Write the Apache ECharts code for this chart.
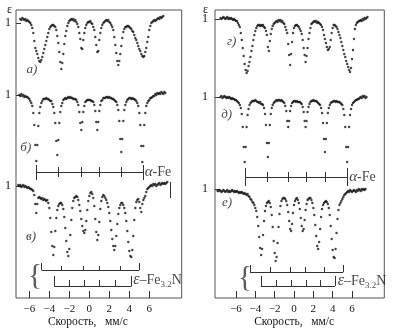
<!DOCTYPE html>
<html><head><meta charset="utf-8">
<script src="https://cdn.jsdelivr.net/npm/echarts@6/dist/echarts.min.js"></script>
<style>html,body{margin:0;padding:0;background:#fff}#c{width:393px;height:332px}</style>
</head><body><div id="c"></div>
<script>
// ---------- DATA ----------
const velocityTicks = [-6, -4, -2, 0, 2, 4, 6];

const velocityLeft = [
-7.1,-7.0,-6.9,-6.8,-6.7,-6.6,-6.5,-6.4,-6.3,-6.2,
-6.1,-6.0,-5.9,-5.8,-5.7,-5.6,-5.5,-5.4,-5.3,-5.2,
-5.1,-5.0,-4.9,-4.8,-4.7,-4.6,-4.5,-4.4,-4.3,-4.2,
-4.1,-4.0,-3.9,-3.8,-3.7,-3.6,-3.5,-3.4,-3.3,-3.2,
-3.1,-3.0,-2.9,-2.8,-2.7,-2.6,-2.5,-2.4,-2.3,-2.2,
-2.1,-2.0,-1.9,-1.8,-1.7,-1.6,-1.5,-1.4,-1.3,-1.2,
-1.1,-1.0,-0.9,-0.8,-0.7,-0.6,-0.5,-0.4,-0.3,-0.2,
-0.1,0.0,0.1,0.2,0.3,0.4,0.5,0.6,0.7,0.8,
0.9,1.0,1.1,1.2,1.3,1.4,1.5,1.6,1.7,1.8,
1.9,2.0,2.1,2.2,2.3,2.4,2.5,2.6,2.7,2.8,
2.9,3.0,3.1,3.2,3.3,3.4,3.5,3.6,3.7,3.8,
3.9,4.0,4.1,4.2,4.3,4.4,4.5,4.6,4.7,4.8,
4.9,5.0,5.1,5.2,5.3,5.4,5.5,5.6,5.7,5.8,
5.9,6.0,6.1,6.2,6.3,6.4,6.5,6.6,6.7,6.8,
6.9,7.0,7.1,7.2,7.3,7.4,7.5,7.6,7.7,7.8];

// spectrum а)
const epsA = [null,null,
1.000,0.999,1.001,1.000,0.999,1.000,0.998,0.999,0.998,0.997,
0.996,0.994,0.991,0.986,0.978,0.971,0.968,0.965,0.961,0.958,
0.957,0.959,0.962,0.966,0.970,0.974,0.978,0.982,0.986,0.990,
0.992,0.993,0.994,0.994,0.993,0.992,0.989,0.983,0.976,0.967,
0.957,0.950,0.956,0.965,0.975,0.983,0.988,0.993,0.996,0.998,
0.999,1.000,0.999,1.000,0.998,0.999,0.997,0.995,0.992,0.986,
0.980,0.971,0.970,0.979,0.986,0.991,0.994,0.996,0.997,0.997,
0.998,0.996,0.995,0.992,0.989,0.982,0.974,0.967,0.968,0.979,
0.986,0.991,0.994,0.996,0.997,0.998,0.999,0.998,0.999,0.997,
0.996,0.994,0.992,0.989,0.982,0.974,0.966,0.958,0.954,0.958,
0.965,0.973,0.981,0.987,0.990,0.992,0.992,0.993,0.993,0.992,
0.991,0.990,0.988,0.987,0.984,0.981,0.979,0.976,0.973,0.970,
0.968,0.965,0.963,0.962,0.963,0.967,0.971,0.977,0.982,0.989,
0.993,0.996,0.997,0.998,0.999,0.998,0.999,1.000,1.001,1.000,
1.002,1.001,1.002,1.003,
null,null,null,null];

// spectrum б)
const epsB = [null,
1.000,0.999,1.001,0.999,1.000,0.998,0.999,0.998,0.998,0.997,
0.996,0.994,0.992,0.989,0.982,0.970,0.950,0.934,0.950,0.969,
0.982,0.988,0.992,0.994,0.996,0.996,0.996,0.997,0.996,0.996,
0.995,0.994,0.994,0.991,0.988,0.982,0.972,0.954,0.940,0.955,
0.972,0.983,0.989,0.992,0.995,0.996,0.997,0.996,0.997,0.998,
0.997,0.998,0.997,0.997,0.996,0.996,0.996,0.995,0.993,0.990,
0.983,0.972,0.965,0.973,0.983,0.989,0.993,0.994,0.995,0.995,
0.995,0.995,0.994,0.994,0.993,0.990,0.984,0.973,0.965,0.973,
0.984,0.990,0.994,0.995,0.997,0.997,0.997,0.998,0.998,0.997,
0.998,0.997,0.997,0.996,0.996,0.995,0.994,0.993,0.990,0.985,
0.974,0.956,0.943,0.956,0.974,0.985,0.990,0.993,0.995,0.996,
0.997,0.997,0.996,0.997,0.996,0.996,0.995,0.994,0.992,0.989,
0.982,0.970,0.949,0.933,0.949,0.970,0.982,0.989,0.992,0.994,
0.995,0.997,0.997,0.998,0.999,0.999,1.001,1.000,1.002,1.001,
1.002,1.001,1.003,1.002,1.001,1.003,1.002,
null,null];

// spectrum в)
const epsV = [
1.001,1.000,1.001,0.999,1.000,1.001,0.999,1.000,0.999,0.998,
0.999,0.998,0.997,0.997,0.996,0.995,0.991,0.982,0.973,0.982,
0.988,0.989,0.988,0.987,0.988,0.986,0.987,0.986,0.985,0.986,
0.983,0.978,0.968,0.954,0.940,0.931,0.939,0.955,0.968,0.976,
0.980,0.982,0.983,0.983,0.981,0.977,0.969,0.958,0.945,0.934,
0.930,0.937,0.951,0.966,0.978,0.985,0.988,0.989,0.990,0.989,
0.986,0.981,0.975,0.967,0.960,0.955,0.953,0.956,0.965,0.976,
0.985,0.990,0.993,0.994,0.992,0.988,0.980,0.967,0.954,0.946,
0.951,0.964,0.977,0.985,0.989,0.991,0.990,0.988,0.986,0.983,
0.979,0.973,0.965,0.956,0.947,0.940,0.936,0.940,0.950,0.962,
0.972,0.978,0.981,0.983,0.983,0.981,0.978,0.973,0.965,0.955,
0.944,0.935,0.930,0.929,0.936,0.950,0.966,0.978,0.984,0.986,
0.987,0.984,0.978,0.974,0.982,0.986,0.988,0.990,0.994,0.997,
0.998,0.999,1.000,1.001,1.000,1.002,1.001,1.002,1.000,1.001,
1.002,1.003,1.001,1.002,1.003,1.002,1.003,1.002,1.003,1.004];

const velocityRight = [
-7.9,-7.8,-7.7,
-7.6,-7.5,-7.4,-7.3,-7.2,-7.1,-7.0,-6.9,-6.8,-6.7,
-6.6,-6.5,-6.4,-6.3,-6.2,-6.1,-6.0,-5.9,-5.8,-5.7,
-5.6,-5.5,-5.4,-5.3,-5.2,-5.1,-5.0,-4.9,-4.8,-4.7,
-4.6,-4.5,-4.4,-4.3,-4.2,-4.1,-4.0,-3.9,-3.8,-3.7,
-3.6,-3.5,-3.4,-3.3,-3.2,-3.1,-3.0,-2.9,-2.8,-2.7,
-2.6,-2.5,-2.4,-2.3,-2.2,-2.1,-2.0,-1.9,-1.8,-1.7,
-1.6,-1.5,-1.4,-1.3,-1.2,-1.1,-1.0,-0.9,-0.8,-0.7,
-0.6,-0.5,-0.4,-0.3,-0.2,-0.1,0.0,0.1,0.2,0.3,
0.4,0.5,0.6,0.7,0.8,0.9,1.0,1.1,1.2,1.3,
1.4,1.5,1.6,1.7,1.8,1.9,2.0,2.1,2.2,2.3,
2.4,2.5,2.6,2.7,2.8,2.9,3.0,3.1,3.2,3.3,
3.4,3.5,3.6,3.7,3.8,3.9,4.0,4.1,4.2,4.3,
4.4,4.5,4.6,4.7,4.8,4.9,5.0,5.1,5.2,5.3,
5.4,5.5,5.6,5.7,5.8,5.9,6.0,6.1,6.2,6.3,
6.4,6.5,6.6,6.7,6.8,6.9,7.0,7.1,7.2,7.3,
7.4,7.5,7.6,7.7];

// spectrum г)
const epsG = [null,null,null,
1.001,1.000,1.001,1.002,1.001,1.000,1.001,1.002,1.000,1.001,
1.000,1.001,1.000,0.999,1.000,0.999,0.998,0.998,0.996,0.994,
0.992,0.986,0.979,0.971,0.963,0.955,0.949,0.946,0.948,0.953,
0.957,0.962,0.968,0.973,0.979,0.984,0.988,0.991,0.993,0.994,
0.994,0.993,0.994,0.993,0.994,0.992,0.991,0.988,0.984,0.972,
0.968,0.978,0.985,0.990,0.993,0.995,0.996,0.997,0.998,0.997,
0.999,0.998,0.999,0.997,0.998,0.996,0.995,0.992,0.989,0.986,
0.975,0.964,0.954,0.965,0.977,0.986,0.991,0.993,0.994,0.994,
0.993,0.992,0.990,0.988,0.985,0.979,0.971,0.964,0.957,0.963,
0.971,0.980,0.986,0.991,0.995,0.996,0.997,0.998,0.997,0.998,
0.996,0.997,0.996,0.995,0.994,0.992,0.989,0.984,0.980,0.976,
0.972,0.969,0.970,0.972,0.979,0.986,0.991,0.994,0.994,0.993,
0.992,0.990,0.987,0.984,0.981,0.977,0.973,0.969,0.965,0.962,
0.958,0.955,0.952,0.949,0.947,0.951,0.960,0.969,0.980,0.990,
0.994,0.996,0.997,0.998,0.998,0.999,0.998,1.000,0.999,1.001,
1.000,1.001,1.002,
null];

// spectrum д)
const epsD = [null,null,null,
1.000,1.001,0.999,1.000,1.001,1.000,0.999,1.000,0.999,1.000,
0.999,0.998,0.999,0.998,0.998,0.997,0.997,0.996,0.995,0.994,
0.992,0.989,0.983,0.970,0.950,0.935,0.950,0.970,0.982,0.988,
0.992,0.994,0.995,0.996,0.996,0.996,0.997,0.996,0.995,0.995,
0.994,0.995,0.993,0.993,0.992,0.989,0.983,0.972,0.954,0.940,
0.954,0.972,0.983,0.989,0.992,0.994,0.995,0.996,0.997,0.996,
0.997,0.997,0.996,0.997,0.996,0.995,0.994,0.991,0.986,0.976,
0.970,0.976,0.986,0.991,0.994,0.995,0.996,0.996,0.995,0.996,
0.995,0.995,0.995,0.994,0.993,0.990,0.985,0.976,0.970,0.976,
0.985,0.990,0.993,0.995,0.996,0.996,0.997,0.996,0.996,0.996,
0.995,0.994,0.993,0.992,0.989,0.984,0.974,0.958,0.945,0.958,
0.974,0.984,0.989,0.992,0.994,0.995,0.995,0.996,0.996,0.995,
0.996,0.995,0.995,0.995,0.994,0.993,0.992,0.988,0.982,0.970,
0.950,0.935,0.950,0.970,0.982,0.988,0.992,0.994,0.995,0.996,
0.997,0.997,0.998,0.998,0.999,1.000,0.999,1.001,1.000,1.001,
0.999,1.000,
null,null];

// spectrum е)
const epsE = [
1.000,1.000,1.001,1.000,0.999,1.000,1.001,1.000,0.999,1.000,
1.001,0.999,1.000,0.999,1.000,1.001,1.000,0.999,1.000,0.999,
1.000,0.999,0.998,0.999,0.998,0.999,0.998,0.997,0.998,0.997,
0.996,0.997,0.995,0.994,0.992,0.991,0.989,0.988,0.986,0.983,
0.980,0.974,0.965,0.954,0.943,0.936,0.942,0.956,0.970,0.980,
0.985,0.988,0.989,0.990,0.988,0.984,0.976,0.964,0.950,0.938,
0.930,0.934,0.948,0.964,0.977,0.985,0.990,0.992,0.993,0.993,
0.992,0.990,0.986,0.979,0.970,0.962,0.960,0.967,0.978,0.986,
0.990,0.992,0.993,0.991,0.988,0.982,0.973,0.965,0.960,0.962,
0.971,0.981,0.987,0.991,0.992,0.993,0.993,0.991,0.988,0.983,
0.976,0.966,0.955,0.945,0.942,0.949,0.962,0.974,0.982,0.986,
0.988,0.989,0.990,0.989,0.987,0.983,0.976,0.965,0.952,0.941,
0.934,0.933,0.942,0.958,0.972,0.981,0.986,0.988,0.990,0.992,
0.994,0.996,0.997,0.998,0.999,1.000,0.999,1.001,1.000,0.999,
1.000,1.001,1.000,0.999,1.001,1.000,1.002,1.001,1.000,1.002,
1.001,1.002,1.001,1.002,
null,null,null];

// stick diagrams (line positions, mm/s)
const alphaFeLeft   = [-5.3, -3.1, -0.85, 0.95, 3.15, 5.4];
const epsUpperLeft  = [-4.76, -2.76, -0.6, 0.97, 3.07, 5.0];
const epsLowerLeft  = [-3.5, -2.0, -0.5, 1.0, 2.57, 4.17];
const alphaFeRight  = [-5.07, -2.76, -0.59, 1.24, 3.24, 5.55];
const epsUpperRight = [-4.55, -2.48, -0.41, 1.14, 3.13, 5.1];
const epsLowerRight = [-3.41, -1.79, -0.24, 1.24, 2.69, 4.24];

const panelLetters = [['а)','б)','в)'], ['г)','д)','е)']];
const axisTitle = 'Скорость,   мм/с';

// ---------- LAYOUT / STYLE ----------
const FONT = '"Liberation Serif","DejaVu Serif",serif';
const INK = '#151515';
const FRAME = '#555';
const PANELS = [
  {grid:{left:16, top:10, width:165.7, height:288}, xmin:-7.33, xmax:9.24,
   vel:velocityLeft, spectra:[epsA, epsB, epsV], bases:[0.279, 0.203, 0.112],
   oneAt:[0.275, 0.203, 0.112], namePad:[0,22,0,0], epsPad:[0,4,0,0], oneMargin:5,
   letters:[[-5.73,0.228],[-6.35,0.150],[-5.83,0.061]],
   alpha:alphaFeLeft, alphaY:[0.126, 0.133, 0.118, 0.131, 0.121], alphaLabel:[6.87,0.126],
   up:epsUpperLeft, upY:[0.028, 0.035, 0.032], low:epsLowerLeft, lowY:[0.0115, 0.022, 0.018],
   epsLabel:[6.82,0.018], brace:[-5.43,0.022], bar:[8.12,0.116,0.100]},
  {grid:{left:215, top:10, width:169.3, height:288}, xmin:-8.17, xmax:9.34,
   vel:velocityRight, spectra:[epsG, epsD, epsE], bases:[0.279, 0.201, 0.107],
   oneAt:[0.279, 0.201, 0.109], namePad:[0,11,0,0], epsPad:[0,7,0,0], oneMargin:7,
   letters:[[-6.44,0.256],[-6.96,0.183],[-6.93,0.095]],
   alpha:alphaFeRight, alphaY:[0.121, 0.130, 0.112, 0.126, 0.116], alphaLabel:[7.08,0.121],
   up:epsUpperRight, upY:[0.026, 0.033, 0.031], low:epsLowerRight, lowY:[0.012, 0.022, 0.018],
   epsLabel:[7.03,0.017], brace:[-5.07,0.020], bar:null}
];

const fmtV = v => (v < 0 ? '\u2212' + (-v) : String(v));

function comb(pos, yLine, endTop, innerTop, endBot, innerBot) {
  const segs = [[{coord:[pos[0], yLine]}, {coord:[pos[pos.length-1], yLine]}]];
  pos.forEach((p, i) => {
    const end = (i === 0 || i === pos.length - 1);
    segs.push([{coord:[p, end ? endTop : innerTop]}, {coord:[p, end ? (endBot ?? yLine) : (innerBot ?? yLine)]}]);
  });
  return segs;
}

const grids = [], xAxes = [], yAxes = [], series = [];
PANELS.forEach((P, gi) => {
  grids.push(Object.assign({show:true, borderColor:FRAME, borderWidth:1, backgroundColor:'transparent',
    containLabel:false, outerBoundsMode:'none'}, P.grid));
  xAxes.push({gridIndex:gi, type:'value', min:P.xmin, max:P.xmax, position:'bottom',
    axisLine:{show:false, onZero:false}, splitLine:{show:false},
    axisTick:{show:true, inside:true, length:7, customValues:velocityTicks, lineStyle:{color:'#333', width:1}},
    axisLabel:{customValues:velocityTicks, formatter:fmtV, margin:6, fontFamily:FONT, fontSize:11, color:INK},
    name:axisTitle, nameLocation:'middle', nameGap:18, nameMoveOverlap:false,
    nameTextStyle:{fontFamily:FONT, fontSize:11.5, color:INK, padding:P.namePad}});
  yAxes.push({gridIndex:gi, type:'value', min:0, max:0.288, position:'left',
    axisLine:{show:false, onZero:false}, splitLine:{show:false},
    axisTick:{show:true, inside:true, length:5, customValues:P.oneAt, lineStyle:{color:'#333'}},
    axisLabel:{customValues:P.oneAt, formatter:() => '1', margin:P.oneMargin, fontFamily:FONT, fontSize:12, color:INK},
    name:'ε', nameLocation:'end', nameGap:0, nameMoveOverlap:false,
    nameTextStyle:{fontFamily:FONT, fontSize:12, color:INK, align:'right', verticalAlign:'middle', padding:P.epsPad}});

  P.spectra.forEach((eps, k) => {
    const pts = [];
    P.vel.forEach((v, i) => { if (eps[i] != null) pts.push([v, P.bases[k] + eps[i] - 1]); });
    series.push({type:'scatter', xAxisIndex:gi, yAxisIndex:gi, data:pts, symbol:'circle',
      symbolSize:2.4, itemStyle:{color:INK}, silent:true, animation:false});
  });

  const lines = []
    .concat(comb(P.alpha, P.alphaY[0], P.alphaY[1], P.alphaY[3], P.alphaY[2], P.alphaY[4]))
    .concat(comb(P.up, P.upY[0], P.upY[1], P.upY[2]))
    .concat(comb(P.low, P.lowY[0], P.lowY[1], P.lowY[2]));
  if (P.bar) lines.push([{coord:[P.bar[0], P.bar[1]]}, {coord:[P.bar[0], P.bar[2]]}]);

  const labelBase = {show:true, position:'inside', fontFamily:FONT, color:INK};
  const ann = [];
  P.letters.forEach((c, k) => ann.push({value:c, label:Object.assign({}, labelBase,
    {formatter:panelLetters[gi][k], fontStyle:'italic', fontSize:13})}));
  ann.push({value:P.alphaLabel, label:Object.assign({}, labelBase, {formatter:'{a|α}{t|-Fe}',
    rich:{a:{fontFamily:FONT, fontStyle:'italic', fontSize:15, color:INK}, t:{fontFamily:FONT, fontSize:14, color:INK}}})});
  ann.push({value:P.epsLabel, label:Object.assign({}, labelBase, {formatter:'{e|ε}{t|–Fe}{s|3.2}{t|N}',
    rich:{e:{fontFamily:FONT, fontStyle:'italic', fontSize:16, color:INK},
          t:{fontFamily:FONT, fontSize:14, color:INK},
          s:{fontFamily:FONT, fontSize:9, color:INK, verticalAlign:'bottom', padding:[9,0,0,0]}}})});
  ann.push({value:P.brace, label:Object.assign({}, labelBase, {formatter:'{', fontSize:30, color:'#333'})});

  series.push({type:'scatter', xAxisIndex:gi, yAxisIndex:gi, data:ann, symbolSize:0, silent:true, animation:false,
    markLine:{silent:true, animation:false, symbol:['none','none'], label:{show:false},
      lineStyle:{color:'#333', width:1, type:'solid'}, emphasis:{disabled:true}, data:lines}});
});

const chart = echarts.init(document.getElementById('c'), null, {renderer:'canvas'});
chart.setOption({backgroundColor:'#fff', animation:false, grid:grids, xAxis:xAxes, yAxis:yAxes, series:series});
</script></body></html>
